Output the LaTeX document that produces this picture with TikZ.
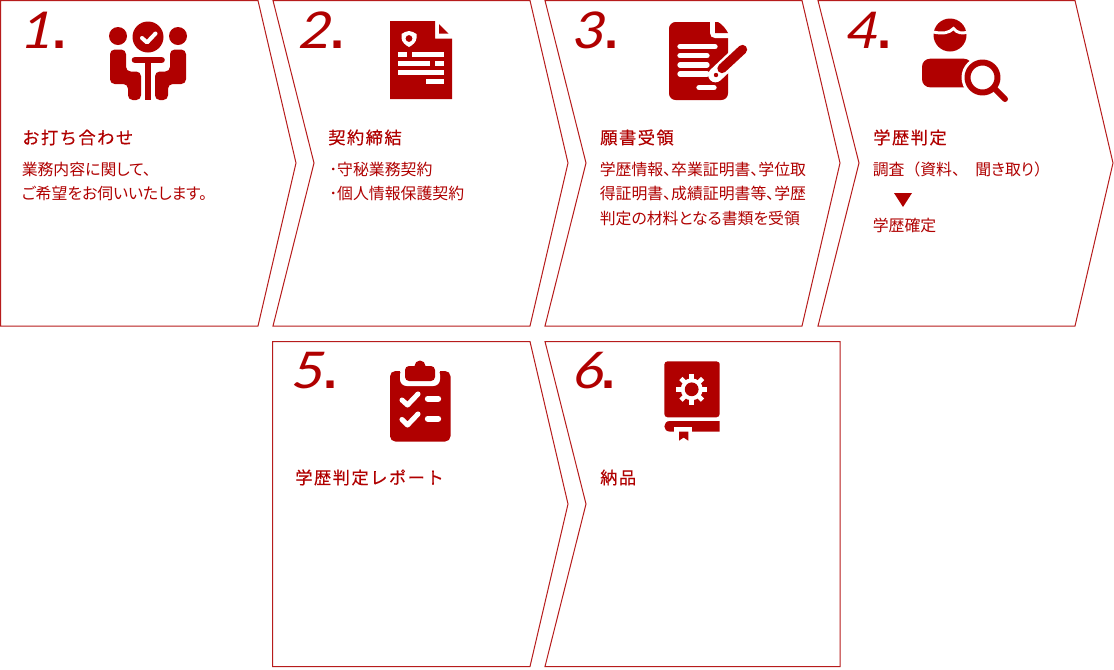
\documentclass[tikz,border=0pt]{standalone}
\usepackage{fontspec}
\setmainfont{Noto Sans CJK JP}[RawFeature=+palt]
\newfontfamily\numfont{Lato Italic}[FakeStretch=1.15,FakeSlant=0.08]
\newfontfamily\dotfont{Liberation Sans Bold}
\newfontfamily\ttlfont{Noto Sans CJK JP}[LetterSpace=9,FakeBold=0.35]
\newfontfamily\fullwidthfont{Noto Sans CJK JP}
\definecolor{brand}{HTML}{B00000}
\definecolor{edge}{HTML}{B71C1C}
\tikzset{
  card/.style={draw=edge,line width=0.75pt,fill=white,line join=miter},
  numlabel/.style={anchor=base west,inner sep=0pt,text=brand,font=\fontsize{38}{38}\selectfont},
  ttl/.style={anchor=base west,inner sep=0pt,text=brand,font=\ttlfont\fontsize{12.9}{14}\selectfont},
  body/.style={anchor=north west,inner sep=0pt,align=left,text=brand,font=\fontsize{11.9}{18.4}\selectfont},
  ink/.style={fill=brand,draw=none},
  cutline/.style={draw=white,line cap=round,line join=round},
  inkline/.style={draw=brand,line cap=round,line join=round},
}
\newcommand{\numtext}[1]{{\numfont #1}{\dotfont\hspace{-1.2pt}.}}
\begin{document}
\begin{tikzpicture}[x=0.75pt,y=-0.75pt]
\useasboundingbox (0,0) rectangle (1114,669);
\fill[white] (0,0) rectangle (1114,669);
% cards
\draw[card] (0.5,0.5) -- (258,0.5) -- (296,163) -- (258,326) -- (0.5,326) -- cycle;
\draw[card] (273,0.5) -- (530,0.5) -- (568,163) -- (530,326) -- (273,326) -- (314,163) -- cycle;
\draw[card] (545,0.5) -- (802,0.5) -- (840,163) -- (802,326) -- (545,326) -- (586,163) -- cycle;
\draw[card] (818,0.5) -- (1075,0.5) -- (1113,163) -- (1075,326) -- (818,326) -- (859,163) -- cycle;
\draw[card] (272.5,341.5) -- (530,341.5) -- (568,504) -- (530,666.5) -- (272.5,666.5) -- cycle;
\draw[card] (545,341.5) -- (840,341.5) -- (840,666.5) -- (545,666.5) -- (586,504) -- cycle;
% numbers
\node[numlabel] (n1) at (20,48) {\numtext{1}};
\node[numlabel] (n2) at (298,48) {\numtext{2}};
\node[numlabel] (n3) at (572,48) {\numtext{3}};
\node[numlabel] (n4) at (845,48) {\numtext{4}};
\node[numlabel] (n5) at (291,388) {\numtext{5}};
\node[numlabel] (n6) at (572,388) {\numtext{6}};
% titles
\node[ttl] (t1) at (22,144) {お打ち合わせ};
\node[ttl] (t2) at (328,144) {契約締結};
\node[ttl] (t3) at (600,144) {願書受領};
\node[ttl] (t4) at (873,144) {学歴判定};
\node[ttl] (t5) at (295,484) {学歴判定レポート};
\node[ttl] (t6) at (600,484) {納品};
% bodies
\node[body] (b1) at (21.5,161.5) {業務内容に関して、\\ご希望をお伺いいたします。};
\node[body] (b2) at (329,161.5) {･守秘業務契約\\･個人情報保護契約};
\node[body] (b3) at (599.5,161.5) {学歴情報、卒業証明書、学位取\\得証明書、成績証明書等、学歴\\判定の材料となる書類を受領};
\node[body] (b4a) at (872.5,161.5) {{\fullwidthfont 調査（資料、}{\fontsize{5.5}{5.5}\selectfont 　}聞き取り{\fullwidthfont ）}};
\node[body] (b4b) at (872.5,218) {学歴確定};
\fill[ink] (894,193) -- (912,193) -- (903,207) -- cycle;
% icon 1
\fill[ink] (118,36) circle (9);
\fill[ink] (178,36) circle (9);
\fill[ink] (148,37) circle (15.5);
\draw[cutline,line width=3pt] (142,38) -- (147,42.5) -- (155.5,33.5);
\draw[inkline,line width=5pt] (135,60) -- (161.5,60);
\draw[inkline,line width=4.5pt,line cap=butt] (148,60) -- (148,100);
\fill[ink,rounded corners=3.5pt] (110,49.5) -- (126,49.5) -- (126,71.5) -- (141,71.5) -- (141,100) -- (128,100) -- (128,84) -- (110,84) -- cycle;
\fill[ink,rounded corners=3.5pt] (186,49.5) -- (170,49.5) -- (170,71.5) -- (155,71.5) -- (155,100) -- (168,100) -- (168,84) -- (186,84) -- cycle;
% icon 2
\fill[ink] (390,21) -- (435,21) -- (435,38.5) -- (452,38.5) -- (452,99) -- (390,99) -- cycle;
\fill[ink] (439,24) -- (448.5,33.5) -- (439,33.5) -- cycle;
\fill[white] (401.5,34) .. controls (404,32.5) and (406.5,31) .. (409,31) .. controls (411.5,31) and (414,32.5) .. (416.5,34) -- (416.5,38) .. controls (416.5,42) and (412,45.5) .. (409,47) .. controls (406,45.5) and (401.5,42) .. (401.5,38) -- cycle;
\fill[ink] (409,38.5) circle (3.4);
\foreach \xa/\xb/\yy in {398/407/54,412/444/54,398/430/63,435/444/63,398/444/72,426/444/81}
  \fill[white] (\xa,\yy-2.5) rectangle (\xb,\yy+2.5);
% icon 3
\fill[ink,rounded corners=5pt] (669,22) rectangle (728,100);
\fill[white] (710,20) -- (710,33) .. controls (710,36) and (712,38) .. (715,38) -- (730,38) -- (730,20) -- cycle;
\fill[ink] (715,22) -- (718,22) .. controls (722,24) and (726,29) .. (728,33) -- (715,33) -- cycle;
\foreach \xb/\yy in {715/46.7,707/55.7,707/65,707/74}
  \draw[cutline,line width=4pt] (680,\yy) -- (\xb,\yy);
\draw[cutline,line width=4pt] (699,87.7) -- (714,87.7);
\draw[white,line width=11pt,line cap=round] (742,50) -- (715.5,75);
\draw[inkline,line width=7pt] (742.5,49.5) -- (722,68.5);
\fill[ink] (716,75) circle (2.2);
% icon 4
\fill[ink] (950,35) circle (16.5);
\draw[white,line width=2.2pt,line cap=round] (933,32) .. controls (943,34) and (949,33) .. (953.5,28.5) .. controls (957,33) and (962,34) .. (968,32);
\fill[ink,rounded corners=6pt] (922,87.3) -- (922,58.7) -- (972,58.7) -- (972,87.3) -- cycle;
\fill[white] (982.5,77.5) circle (21);
\draw[inkline,line width=4.5pt] (982.5,77.5) circle (15);
\draw[inkline,line width=4.5pt] (994.5,88.5) -- (1005,99);
% icon 5
\fill[ink,rounded corners=4pt] (390,371) rectangle (450.5,441.5);
\fill[white,rounded corners=5pt] (400,368) -- (440,368) -- (440,386) -- (400,386) -- cycle;
\fill[white] (400,364) rectangle (440,372);
\fill[ink,rounded corners=3pt] (405,366) -- (435,366) -- (435,381) -- (405,381) -- cycle;
\fill[ink] (420,366) circle (5.5);
\draw[cutline,line width=3.8pt] (402,400) -- (407.5,405) -- (418,394);
\draw[cutline,line width=3.8pt] (402,419.5) -- (407.5,425) -- (418,414);
\draw[cutline,line width=4.8pt] (428,398.7) -- (438,398.7);
\draw[cutline,line width=4.8pt] (428,418.7) -- (438,418.7);
% icon 6
\fill[ink,rounded corners=2.5pt] (664.3,417.3) -- (664.3,361.3) -- (719.7,361.3) -- (719.7,366) -- (719.7,417.3) -- cycle;
\fill[ink] (719.7,421) -- (670,421) .. controls (662.5,421) and (662.5,431.6) .. (670,431.6) -- (719.7,431.6) -- cycle;
\fill[white] (674.3,427) rectangle (692.3,432);
\fill[ink] (679,431.7) -- (688.3,431.7) -- (688.3,440.7) -- (683.6,437.5) -- (679,440.7) -- cycle;
\foreach \a in {0,45,...,315}
  \fill[white,rotate around={\a:(691.7,389.3)}] (689.4,374) rectangle (694,380);
\fill[white] (691.7,389.3) circle (11);
\fill[ink] (691.7,389.3) circle (6.9);
\end{tikzpicture}
\end{document}
